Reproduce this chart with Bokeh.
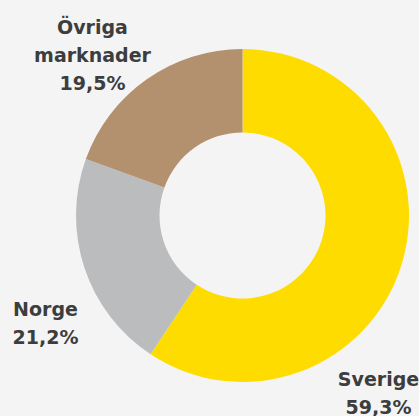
import math
from bokeh.plotting import figure
from bokeh.models import Range1d, ColumnDataSource
from bokeh.core.properties import value
from bokeh.embed import file_html
from bokeh.resources import INLINE

# ---- data ----
categories = ["Sverige", "Norge", "Övriga marknader"]
shares = [59.3, 21.2, 19.5]
name_lines = [["Sverige"], ["Norge"], ["Övriga", "marknader"]]
colors = ["#FFDC00", "#BBBCBE", "#B3916F"]

# ---- layout ----
W, H = 419, 416
BG = "#f4f4f4"
TEXT = "#3d3d3d"

def sx(x):
    return x

def sy(y):
    return H - y

cx, cy = sx(242), sy(215)
r_out, r_in = 166.5, 83.0
label_anchor = [(378, 378), (45, 308), (92, 26)]  # screen px: center x, first line
line_h = 28

total = sum(shares)
starts, ends = [], []
acc = 0.0
for s in shares:
    a0 = math.pi / 2 - 2 * math.pi * acc / total
    acc += s
    a1 = math.pi / 2 - 2 * math.pi * acc / total
    starts.append(a0)
    ends.append(a1)

p = figure(width=W, height=H, output_backend="svg", toolbar_location=None,
           x_range=Range1d(0, W), y_range=Range1d(0, H), min_border=0)
p.axis.visible = False
p.grid.visible = False
p.outline_line_color = None
p.background_fill_color = BG
p.border_fill_color = BG

src = ColumnDataSource(dict(x=[cx] * len(shares), y=[cy] * len(shares),
                            start=starts, end=ends, color=colors))
p.annular_wedge(x="x", y="y", inner_radius=r_in, outer_radius=r_out,
                start_angle="start", end_angle="end", direction="clock",
                fill_color="color", line_color=None, source=src)

tx, ty, tt = [], [], []
for i, s in enumerate(shares):
    lines = name_lines[i] + [f"{s:.1f}".replace(".", ",") + "%"]
    ax, ay = label_anchor[i]
    for j, ln in enumerate(lines):
        tx.append(sx(ax))
        ty.append(sy(ay + j * line_h))
        tt.append(ln)

p.text(x=tx, y=ty, text=tt, text_align="center", text_baseline="alphabetic",
       text_font=value("DejaVu Sans"), text_font_style="bold",
       text_font_size="19px", text_color=TEXT)

html = file_html(p, INLINE)
html = html.replace("<head>", "<head><style>html,body{margin:0;padding:0;overflow:hidden;background:%s;}</style>" % BG, 1)
open("out.html", "w").write(html)
